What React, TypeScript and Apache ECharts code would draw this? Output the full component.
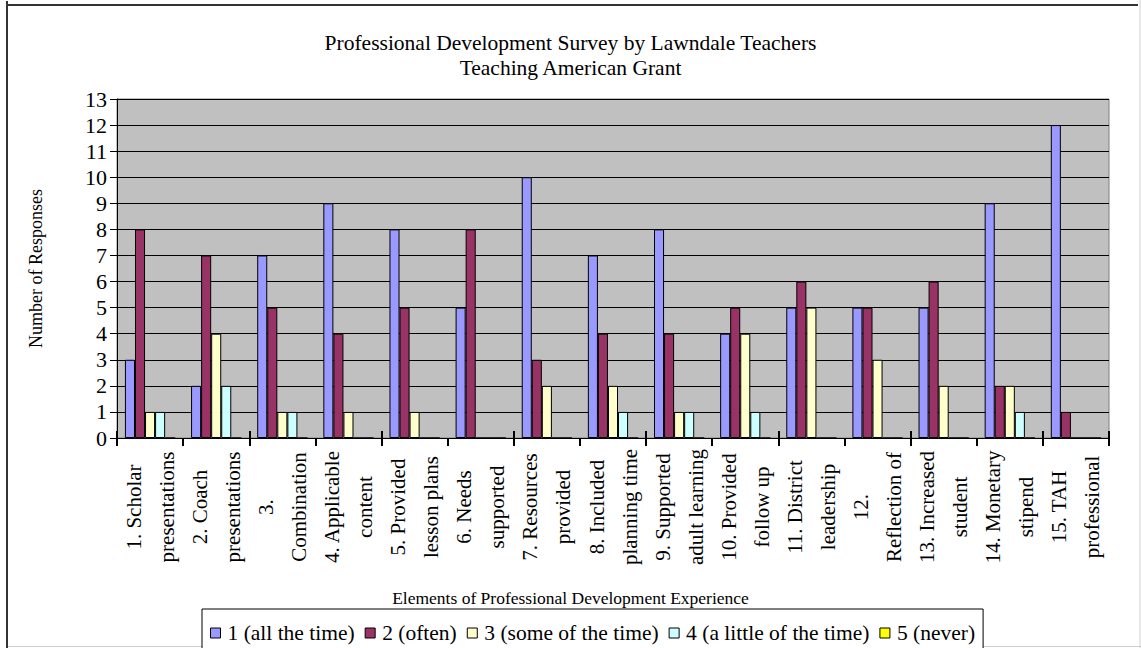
import React, { useEffect, useRef } from "react";
import * as echarts from "echarts";

// Survey elements (labels wrap onto two lines under the axis)
const categories = [
  "1. Scholar\npresentations",
  "2. Coach\npresentations",
  "3.\nCombination",
  "4. Applicable\ncontent",
  "5. Provided\nlesson plans",
  "6. Needs\nsupported",
  "7. Resources\nprovided",
  "8. Included\nplanning time",
  "9. Supported\nadult learning",
  "10. Provided\nfollow up",
  "11. District\nleadership",
  "12.\nReflection of",
  "13. Increased\nstudent",
  "14. Monetary\nstipend",
  "15. TAH\nprofessional",
];

// Number of responses per frequency rating
const allTheTime = [3, 2, 7, 9, 8, 5, 10, 7, 8, 4, 5, 5, 5, 9, 12];
const often = [8, 7, 5, 4, 5, 8, 3, 4, 4, 5, 6, 5, 6, 2, 1];
const someOfTheTime = [1, 4, 1, 1, 1, 0, 2, 2, 1, 4, 5, 3, 2, 2, 0];
const aLittleOfTheTime = [1, 2, 1, 0, 0, 0, 0, 1, 1, 1, 0, 0, 0, 1, 0];
const never = [0, 0, 0, 0, 0, 0, 0, 0, 0, 0, 0, 0, 0, 0, 0];

const seriesNames = [
  "1 (all the time)",
  "2 (often)",
  "3 (some of the time)",
  "4 (a little of the time)",
  "5 (never)",
];
const seriesData = [allTheTime, often, someOfTheTime, aLittleOfTheTime, never];
const seriesColors = ["#9999FF", "#993366", "#FFFFCC", "#CCFFFF", "#FFFF00"];

const FONT = "'Liberation Serif', 'Times New Roman', serif";

export default function App() {
  const ref = useRef<HTMLDivElement>(null);

  useEffect(() => {
    if (!ref.current) return;
    const chart = echarts.init(ref.current, undefined, { renderer: "svg" });
    chart.setOption({
      animation: false,
      backgroundColor: "#ffffff",
      textStyle: { fontFamily: FONT, color: "#000" },
      title: [
        {
          text: "Professional Development Survey by Lawndale Teachers\nTeaching American Grant",
          left: "center",
          top: 30,
          padding: 0,
          textStyle: {
            fontFamily: FONT,
            fontSize: 21.5,
            lineHeight: 25,
            fontWeight: "normal",
            color: "#000",
          },
        },
        {
          text: "Elements of Professional Development Experience",
          left: "center",
          top: 588,
          padding: 0,
          textStyle: {
            fontFamily: FONT,
            fontSize: 17.5,
            lineHeight: 20,
            fontWeight: "normal",
            color: "#000",
          },
        },
      ],
      legend: {
        left: 202,
        top: 609,
        padding: [13, 8, 8, 8],
        borderColor: "#000",
        borderWidth: 1,
        backgroundColor: "#fff",
        icon: "rect",
        itemWidth: 10,
        itemHeight: 10,
        itemGap: 10,
        itemStyle: { borderColor: "#000", borderWidth: 1 },
        textStyle: { fontFamily: FONT, fontSize: 21.5, color: "#000", padding: [0, 0, 0, 2] },
        data: seriesNames,
      },
      grid: {
        left: 117,
        right: 32,
        top: 99,
        bottom: 210,
        show: true,
        backgroundColor: "#C0C0C0",
        borderColor: "#808080",
        borderWidth: 1,
      },
      xAxis: [
        {
          type: "category",
          data: categories,
          axisLine: { lineStyle: { color: "#000", width: 1 } },
          axisTick: { show: true, length: 8, lineStyle: { color: "#000", width: 2 } },
          axisLabel: {
            rotate: 90,
            align: "center",
            verticalAlign: "middle",
            margin: 69,
            interval: 0,
            fontFamily: FONT,
            fontSize: 21,
            lineHeight: 33,
            color: "#000",
          },
        },
        {
          type: "category",
          data: categories,
          position: "bottom",
          axisLine: { show: false },
          axisTick: { show: true, inside: true, length: 7, lineStyle: { color: "#000", width: 2 } },
          axisLabel: { show: false },
          splitLine: { show: false },
        },
      ],
      yAxis: {
        type: "value",
        min: 0,
        max: 13,
        interval: 1,
        name: "Number of Responses",
        nameLocation: "middle",
        nameGap: 72,
        nameRotate: 90,
        nameTextStyle: { fontFamily: FONT, fontSize: 18, color: "#000" },
        axisLine: { show: true, lineStyle: { color: "#000", width: 1 } },
        axisTick: { show: true, length: 7, lineStyle: { color: "#000" } },
        axisLabel: { fontFamily: FONT, fontSize: 22, color: "#000", margin: 10 },
        splitLine: { show: true, lineStyle: { color: "#000", width: 1 } },
      },
      series: seriesNames.map((name, i) => ({
        name,
        type: "bar",
        data: seriesData[i],
        barGap: "0%",
        barCategoryGap: "24%",
        itemStyle: { color: seriesColors[i], borderColor: "#000", borderWidth: 1 },
      })),
      graphic: [
        { type: "line", shape: { x1: 7, y1: 1, x2: 7, y2: 648 }, style: { stroke: "#333", lineWidth: 2 } },
        { type: "line", shape: { x1: 6, y1: 5, x2: 1138, y2: 5 }, style: { stroke: "#333", lineWidth: 2 } },
        { type: "line", shape: { x1: 1140, y1: 0, x2: 1140, y2: 648 }, style: { stroke: "#cfcfcf", lineWidth: 1 } },
        { type: "line", shape: { x1: 8, y1: 646.5, x2: 1141, y2: 646.5 }, style: { stroke: "#cfcfcf", lineWidth: 1 } },
      ],
    });
    return () => chart.dispose();
  }, []);

  return (
    <div
      ref={ref}
      style={{ position: "absolute", left: 0, top: 0, width: 1141, height: 648 }}
    />
  );
}
